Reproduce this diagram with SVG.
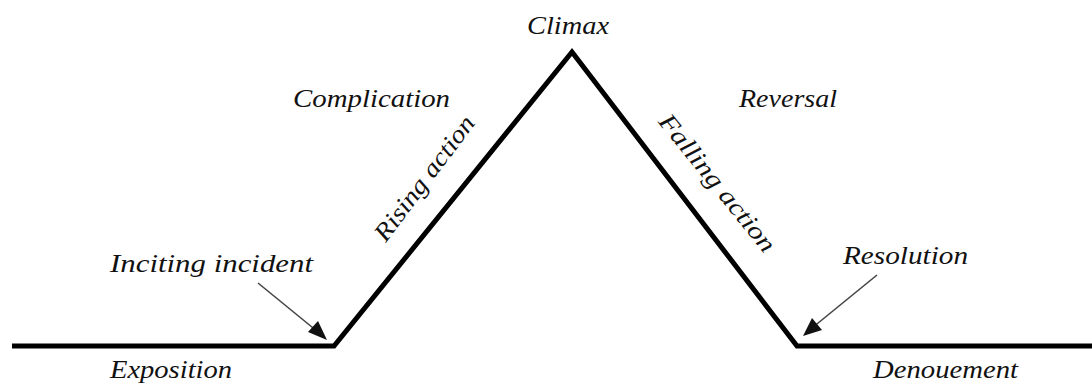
<svg xmlns="http://www.w3.org/2000/svg" width="1092" height="385" viewBox="0 0 1092 385">
<style>
.t{font-family:"Liberation Serif","Times New Roman",serif;font-style:italic;font-size:25px;fill:#111}
.plot{fill:none;stroke:#000;stroke-width:5;stroke-linejoin:miter}
.arr{stroke:#444;stroke-width:1.6;fill:none}
.ah{fill:#111}
</style>
<rect width="1092" height="385" fill="#fff"/>
<g id="connectors">
<path class="plot" d="M12,346 L334,346 L572,52 L797,346 L1092,346"/>
<line class="arr" x1="258" y1="283" x2="318" y2="332"/>
<path class="ah" d="M327,340 L308,332 L318,321 Z"/>
<line class="arr" x1="877" y1="275" x2="812" y2="328"/>
<path class="ah" d="M803,336 L812,318 L822,330 Z"/>
</g>
<g id="climax"><text class="t" x="527" y="34" textLength="82" lengthAdjust="spacingAndGlyphs">Climax</text></g>
<g id="complication"><text class="t" x="293" y="107" textLength="157" lengthAdjust="spacingAndGlyphs">Complication</text></g>
<g id="reversal"><text class="t" x="739" y="107" textLength="98" lengthAdjust="spacingAndGlyphs">Reversal</text></g>
<g id="inciting"><text class="t" x="110" y="272" textLength="203" lengthAdjust="spacingAndGlyphs">Inciting  incident</text></g>
<g id="resolution"><text class="t" x="843" y="264" textLength="125" lengthAdjust="spacingAndGlyphs">Resolution</text></g>
<g id="exposition"><text class="t" x="110" y="378" textLength="122" lengthAdjust="spacingAndGlyphs">Exposition</text></g>
<g id="denouement"><text class="t" x="873" y="378" textLength="145" lengthAdjust="spacingAndGlyphs">Denouement</text></g>
<g id="rising"><text class="t" transform="translate(431,183) rotate(-53)" text-anchor="middle" textLength="150" lengthAdjust="spacingAndGlyphs">Rising action</text></g>
<g id="falling"><text class="t" transform="translate(711,188) rotate(51)" text-anchor="middle" textLength="170" lengthAdjust="spacingAndGlyphs">Falling action</text></g>
</svg>
